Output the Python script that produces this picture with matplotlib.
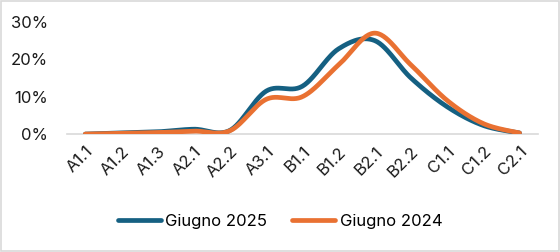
import matplotlib
matplotlib.use("Agg")
import matplotlib.pyplot as plt
import numpy as np
from matplotlib.ticker import FuncFormatter
from matplotlib.patches import Rectangle

levels = ["A1.1", "A1.2", "A1.3", "A2.1", "A2.2", "A3.1", "B1.1",
          "B1.2", "B2.1", "B2.2", "C1.1", "C1.2", "C2.1"]
giugno_2025 = [0.0, 0.3, 0.6, 1.3, 1.0, 11.5, 12.8, 22.8, 25.0, 15.0, 7.3, 2.3, 0.3]
giugno_2024 = [0.0, 0.2, 0.4, 0.8, 0.9, 9.3, 10.0, 18.5, 27.0, 18.5, 9.0, 2.8, 0.3]

plt.rcParams['font.family'] = ['Inter', 'DejaVu Sans']


def smooth(y, n=30):
    # excel-like smoothing: bezier segments with catmull-rom tangents
    y = np.asarray(y, dtype=float)
    x = np.arange(len(y), dtype=float)
    xs, ys = [], []
    for i in range(len(y) - 1):
        p0 = (x[i - 1], y[i - 1]) if i > 0 else (x[i], y[i])
        p1 = (x[i], y[i])
        p2 = (x[i + 1], y[i + 1])
        p3 = (x[i + 2], y[i + 2]) if i + 2 < len(y) else (x[i + 1], y[i + 1])
        c1 = (p1[0] + (p2[0] - p0[0]) / 6, p1[1] + (p2[1] - p0[1]) / 6)
        c2 = (p2[0] - (p3[0] - p1[0]) / 6, p2[1] - (p3[1] - p1[1]) / 6)
        t = np.linspace(0, 1, n)
        for k in range(2):
            pts = [p1[k], c1[k], c2[k], p2[k]]
            v = ((1 - t) ** 3 * pts[0] + 3 * (1 - t) ** 2 * t * pts[1]
                 + 3 * (1 - t) * t ** 2 * pts[2] + t ** 3 * pts[3])
            (xs if k == 0 else ys).append(v)
    return np.concatenate(xs), np.concatenate(ys)


fig = plt.figure(figsize=(5.6, 2.52), dpi=100)
ax = fig.add_axes([0.12, 0.468, 0.84, 0.445])

x1, y1 = smooth(giugno_2025)
x2, y2 = smooth(giugno_2024)
ax.plot(x1, y1, color="#156082", lw=3.4, solid_capstyle="round", label="Giugno 2025")
ax.plot(x2, y2, color="#E97132", lw=3.4, solid_capstyle="round", label="Giugno 2024")

ax.set_xlim(-0.5, len(levels) - 0.5)
ax.set_ylim(0, 30)
ax.set_yticks([0, 10, 20, 30])
ax.yaxis.set_major_formatter(FuncFormatter(lambda v, p: f"{v:.0f}%"))
ax.set_xticks(range(len(levels)))
ax.set_xticklabels(levels, rotation=45, ha="right", rotation_mode="anchor")
ax.tick_params(length=0, labelsize=12, colors="#1a1a1a")
ax.tick_params(axis="x", pad=7)
ax.tick_params(axis="y", pad=14)

for s in ["top", "right", "left"]:
    ax.spines[s].set_visible(False)
ax.spines["bottom"].set_color("#D9D9D9")
ax.spines["bottom"].set_linewidth(1.2)
ax.spines["bottom"].set_zorder(0)

fig.legend(loc="center", bbox_to_anchor=(0.5, 0.12), ncol=2, frameon=False,
           fontsize=12, handlelength=2.6, columnspacing=1.5, handletextpad=0.25)

fig.patches.append(Rectangle((0.002, 0.004), 0.996, 0.992, transform=fig.transFigure,
                             fill=False, edgecolor="#D9D9D9", lw=1.2))

fig.savefig("out.png", dpi=100)
